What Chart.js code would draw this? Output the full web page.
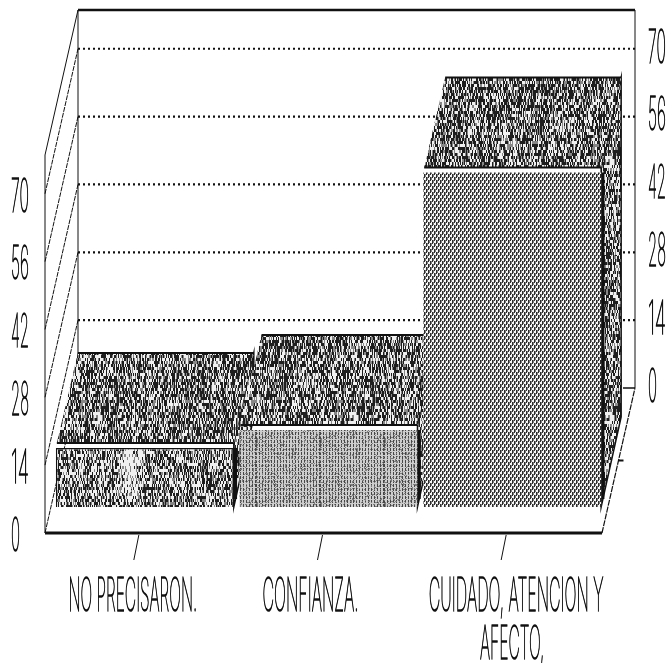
<!DOCTYPE html>
<html>
<head>
<meta charset="utf-8">
<style>html,body{margin:0;padding:0;background:#fff}canvas{display:block}</style>
<script src="https://cdn.jsdelivr.net/npm/chart.js@4/dist/chart.umd.min.js"></script>
</head>
<body>
<canvas id="c" width="668" height="663"></canvas>
<script>
const categories = ["NO PRECISARON.", "CONFIANZA.", ["CUIDADO, ATENCION Y", "AFECTO,"]];
const values = [12.2, 15.9, 69];
const tickValues = [0, 14, 28, 42, 56, 70];

function hash(x, y) { const s = Math.sin(x * 127.1 + y * 311.7) * 43758.5453; return s - Math.floor(s); }
function tile(w, h, fn) {
  const cv = document.createElement('canvas'); cv.width = w; cv.height = h;
  const g = cv.getContext('2d'); const im = g.createImageData(w, h);
  for (let y = 0; y < h; y++) for (let x = 0; x < w; x++) {
    const v = fn(x, y), i = (y * w + x) * 4;
    im.data[i] = im.data[i + 1] = im.data[i + 2] = v; im.data[i + 3] = 255;
  }
  g.putImageData(im, 0, 0);
  return g.createPattern(cv, 'repeat');
}
function speckle(dark, patch) {
  return tile(256, 256, (x, y) => {
    const gy = Math.floor(y / 3);
    const streak = (x % 29 < 1) ? 0.25 : 0;
    let p = dark + (hash(Math.floor(x / 6), Math.floor(y / 12)) - 0.5) * 0.22 + streak;
    if (patch) { const dx = (x - 130) / 9, dy = (y - 212) / 24; p -= 0.55 * Math.exp(-(dx * dx + dy * dy)); }
    const n = hash(x, gy);
    return n < p ? 30 : (n < p + 0.22 ? 135 : 240);
  });
}
const weave = tile(4, 6, (x, y) => {
  const phase = x < 2 ? 0 : 3;
  return (x % 2 === 0 && (y + phase) % 6 < 4) ? 45 : ((x % 2 === 1 && (y + phase) % 6 < 3) ? 120 : 248);
});
const fine = tile(64, 64, (x, y) => {
  const base = (x % 3 === 0 && y % 4 !== 3) ? 70 : 205;
  return hash(x, y) < 0.18 ? 125 : base;
});
const fronts = [speckle(0.4, true), fine, weave];
const topFill = speckle(0.45, false);

const DEPTH = { x: 33, y: -145, cageDown: 26, cageLeft: 8, cageRight: 2 };
const BAR3D = { gap: 5, dx: 21, dy: -90 };
const LABEL_SHIFT = [[-12], [-18], [4, 0]];

const thinFont = size => `100 ${size}px Inter, Roboto, "Liberation Sans", sans-serif`;
function squeezed(ctx, text, x, y, charW, align) {
  ctx.save();
  ctx.font = thinFont(46);
  ctx.fillStyle = '#111'; ctx.strokeStyle = '#111'; ctx.lineWidth = 1.5;
  ctx.textBaseline = 'middle'; ctx.textAlign = 'left';
  const target = charW * text.length, sx = target / ctx.measureText(text).width;
  const left = align === 'center' ? x - target / 2 : x;
  ctx.translate(left, y); ctx.scale(sx, 1);
  ctx.fillText(text, 0, 0); ctx.strokeText(text, 0, 0);
  ctx.restore();
}
function poly(ctx, pts) {
  ctx.beginPath(); pts.forEach((p, i) => i ? ctx.lineTo(p[0], p[1]) : ctx.moveTo(p[0], p[1])); ctx.closePath();
}

const cage3d = {
  id: 'cage3d',
  beforeDatasetsDraw(chart) {
    const ctx = chart.ctx, a = chart.chartArea, ys = chart.scales.y;
    const L = a.left - DEPTH.cageLeft, R = a.right - DEPTH.cageRight;
    const base = ys.getPixelForValue(0) + DEPTH.cageDown, top = a.top + DEPTH.cageDown;
    const dx = DEPTH.x, dy = DEPTH.y;
    ctx.save();
    ctx.strokeStyle = '#111';
    const seg = (x1, y1, x2, y2, w, dash) => {
      ctx.lineWidth = w; ctx.setLineDash(dash || []);
      ctx.beginPath(); ctx.moveTo(x1, y1); ctx.lineTo(x2, y2); ctx.stroke();
    };
    tickValues.slice(1).forEach(v => {
      const y = ys.getPixelForValue(v) + DEPTH.cageDown;
      seg(L + dx, y + dy, R + dx, y + dy, 2.2, [2, 3]);
      seg(L, y, L + dx, y + dy, 1, [5, 1]);
    });
    seg(L, top, L + dx, top + dy, 1);
    seg(L, base, L + dx, base + dy, 1, [5, 1]);
    seg(L, base, L, top, 1);
    seg(L + dx, top + dy, L + dx, base + dy, 1);
    seg(R + dx, top + dy, R + dx, base + dy, 1);
    seg(R, base, R + dx, base + dy, 1.2, [6, 1]);
    seg(L + dx, top + dy, R + dx, top + dy, 2.6);
    seg(L, base, R, base, 3);
    seg(R + dx, base + dy, R + dx - 12, base + dy, 1.5);
    seg(R + dx / 2, base + dy / 2, R + dx / 2 + 5, base + dy / 2, 2);
    chart.scales.x.ticks.forEach((t, i) => {
      const x = chart.scales.x.getPixelForTick(i) - DEPTH.cageLeft;
      seg(x + 2, base + 2, x - 3, base + 27, 1);
    });
    const bars = chart.getDatasetMeta(0).data;
    const B = BAR3D;
    bars.forEach(b => {
      const r = b.x + b.width / 2;
      poly(ctx, [[r, b.y - B.gap], [r + B.dx - 1, b.y - B.gap + B.dy], [r + B.dx - 1, b.base + B.dy], [r, b.base]]);
      ctx.fillStyle = topFill; ctx.fill();
      ctx.strokeStyle = '#111'; ctx.setLineDash([]); ctx.lineWidth = 1.5; ctx.stroke();
      seg(r + 1.5, b.y, r + 1.5, b.base - 8, 3.5);
    });
    bars.forEach(b => {
      const l = b.x - b.width / 2, r = b.x + b.width / 2, y = b.y - B.gap;
      poly(ctx, [[l + 1, y], [l + 1 + B.dx, y + B.dy], [r + B.dx - 1, y + B.dy], [r, y]]);
      ctx.fillStyle = topFill; ctx.fill();
      seg(l + 1 + B.dx, y + B.dy, r + B.dx - 1, y + B.dy, 2);
      seg(l + 1, y, r, y, 2);
    });
    ctx.restore();
  },
  afterDraw(chart) {
    const ctx = chart.ctx, a = chart.chartArea, ys = chart.scales.y, xs = chart.scales.x;
    const R = a.right - DEPTH.cageRight;
    ys.ticks.forEach(t => {
      const front = ys.getPixelForValue(t.value) + DEPTH.cageDown;
      const label = String(t.value);
      squeezed(ctx, label, 11, front + 4, 9, 'left');
      squeezed(ctx, label, R + DEPTH.x + 13, front + DEPTH.y, 9, 'left');
    });
    categories.forEach((cat, i) => {
      const lines = Array.isArray(cat) ? cat : [cat];
      const x = xs.getPixelForTick(i);
      const charW = i === 1 ? 9.6 : 9.2;
      lines.forEach((line, j) => squeezed(ctx, line, x + LABEL_SHIFT[i][j], 597 + j * 48, charW, 'center'));
    });
  }
};

new Chart(document.getElementById('c'), {
  type: 'bar',
  data: {
    labels: categories,
    datasets: [{
      data: values,
      backgroundColor: fronts,
      borderColor: ['#111', 'rgba(0,0,0,0)', 'rgba(0,0,0,0)'],
      borderWidth: [1.5, 0, 0],
      barPercentage: 0.969,
      categoryPercentage: 1
    }]
  },
  options: {
    responsive: false,
    animation: false,
    devicePixelRatio: 1,
    layout: { padding: { left: 53, right: 64, top: 129, bottom: 156 } },
    plugins: { legend: { display: false }, title: { display: false }, tooltip: { enabled: false } },
    scales: {
      x: { display: false },
      y: {
        display: false, min: 0, max: 78,
        afterBuildTicks(scale) { scale.ticks = tickValues.map(v => ({ value: v })); }
      }
    }
  },
  plugins: [cage3d]
});
</script>
</body>
</html>
